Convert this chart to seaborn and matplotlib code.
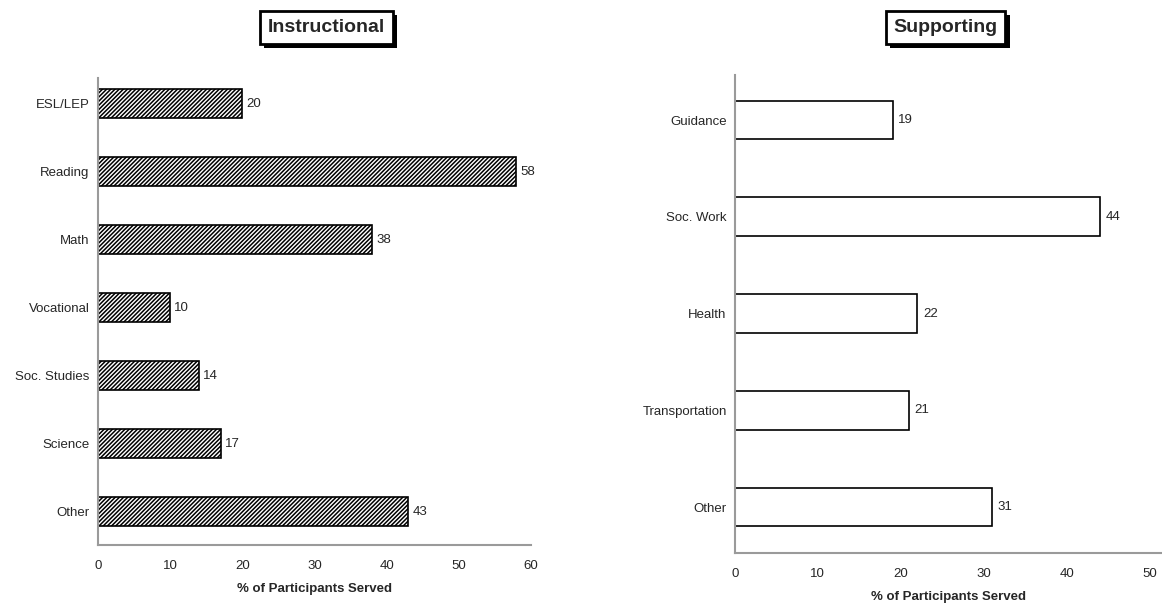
import matplotlib
matplotlib.use('Agg')
import matplotlib.pyplot as plt
import matplotlib.patheffects as pe
import seaborn as sns

# data
instr_cats = ['ESL/LEP', 'Reading', 'Math', 'Vocational', 'Soc. Studies', 'Science', 'Other']
instr_vals = [20, 58, 38, 10, 14, 17, 43]
supp_cats = ['Guidance', 'Soc. Work', 'Health', 'Transportation', 'Other']
supp_vals = [19, 44, 22, 21, 31]

sns.set_style('white')
plt.rcParams['font.family'] = ['Liberation Sans', 'DejaVu Sans']
plt.rcParams['hatch.linewidth'] = 1.1
plt.rcParams['hatch.color'] = '#2a2a2a'

fig = plt.figure(figsize=(11.62, 6.05), dpi=100)
ax1 = fig.add_axes([0.0843, 0.0992, 0.3726, 0.772])
ax2 = fig.add_axes([0.6325, 0.086, 0.3675, 0.790])


def style_axis(ax, xmax, ticks):
    ax.set_xlim(0, xmax)
    ax.set_xticks(ticks)
    ax.set_ylabel('')
    ax.set_xlabel('% of Participants Served', fontsize=9.5, fontweight='bold', labelpad=8)
    for s in ['top', 'right']:
        ax.spines[s].set_visible(False)
    for s in ['left', 'bottom']:
        ax.spines[s].set_color('#9a9a9a')
        ax.spines[s].set_linewidth(1.5)
    ax.tick_params(axis='x', length=3, color='#c0c0c0', labelsize=9.5, pad=8)
    ax.tick_params(axis='y', length=0, labelsize=9.5, pad=6)


sns.barplot(x=instr_vals, y=instr_cats, orient='h', ax=ax1, color='white',
            edgecolor='black', linewidth=1.2, hatch='////////', width=0.43)
style_axis(ax1, 60, range(0, 61, 10))
ax1.set_ylim(6.49, -0.38)
ax1.bar_label(ax1.containers[0], padding=3, fontsize=9.5)

sns.barplot(x=supp_vals, y=supp_cats, orient='h', ax=ax2, color='white',
            edgecolor='black', linewidth=1.2, width=0.4)
style_axis(ax2, 51.5, range(0, 51, 10))
ax2.set_ylim(4.475, -0.465)
ax2.bar_label(ax2.containers[0], padding=4, fontsize=9.5)


def boxed_title(x, y, s):
    t = fig.text(x, y, s, ha='center', va='center', fontsize=14, fontweight='bold',
                 bbox=dict(boxstyle='square,pad=0.4', fc='white', ec='black', lw=2))
    t.get_bbox_patch().set_path_effects([
        pe.SimplePatchShadow(offset=(3, -3), shadow_rgbFace='black', alpha=1.0),
        pe.Normal()])


boxed_title(0.281, 0.955, 'Instructional')
boxed_title(0.8137, 0.955, 'Supporting')

fig.savefig('out.png', dpi=100)
